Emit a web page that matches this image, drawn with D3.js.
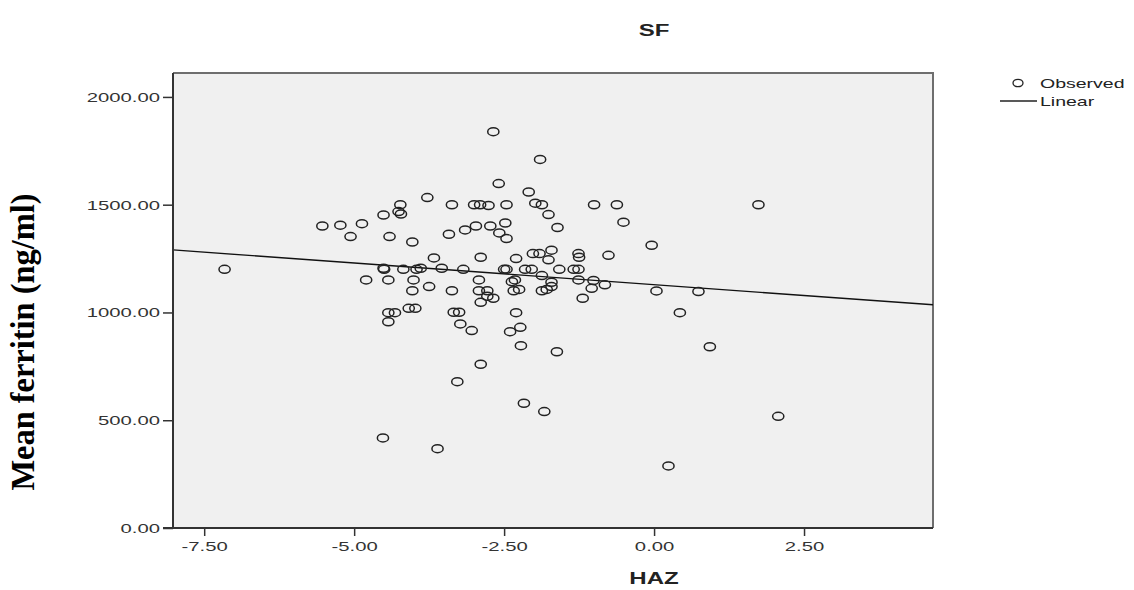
<!DOCTYPE html>
<html>
<head>
<meta charset="utf-8">
<script src="https://cdn.jsdelivr.net/npm/d3@7"></script>
<style>
  html, body { margin: 0; padding: 0; background: #fff; }
  #chart { width: 1134px; height: 590px; }
  .tick text { font-family: "Liberation Sans", Arial, sans-serif; font-size: 13.5px; fill: #333; }
  .tick line { stroke: #333; stroke-width: 1.5; }
</style>
</head>
<body>
<div id="chart"></div>
<script>
// HAZ (x) and mean ferritin (y)
const haz = [
  -7.16, -5.53, -5.23, -5.06, -4.87, -4.51, -4.23, -4.26, -4.22, -4.41,
  -4.03, -4.51, -4.50, -4.18, -3.96, -4.80, -4.43, -4.01, -4.03, -2.68,
  -1.90, -2.59, -2.09, -3.78, -3.37, -3.00, -2.90, -2.76, -2.46, -1.98,
  -1.87, -1.00, -0.62, -1.76, -0.51, -1.61, -2.48, -2.97, -2.73, -3.15,
  -3.42, -2.58, -2.46, -0.04, -1.71, -2.02, -1.91, -1.26, -1.25, -0.76,
  -3.67, -2.89, -2.30, -1.76, -3.89, -3.54, -3.18, -2.50, -2.46, -2.15,
  -2.04, -1.58, -1.34, -1.26, -1.01, -0.82, 0.04, -2.92, -2.37, -2.32,
  -1.71, -1.26, -1.87, -3.75, -3.37, -2.92, -2.78, -2.34, -2.25, -1.87,
  -1.79, -1.71, -1.19, -2.78, -2.68, -2.89, -1.04, -2.30, -4.09, -3.98,
  -3.34, -3.25, -3.23, -3.04, -2.40, -2.23, -2.22, -1.62, -2.89, -3.28,
  -2.17, -1.83, -3.61, -4.43, -4.32, -4.43, -4.52, 1.74, 0.74, 0.43,
  0.93, 2.07, 0.24
];
const ferritin = [
  1200, 1401, 1405, 1352, 1412, 1452, 1500, 1468, 1457, 1352,
  1327, 1205, 1200, 1200, 1200, 1151, 1151, 1151, 1101, 1839,
  1710, 1598, 1559, 1533, 1500, 1500, 1500, 1496, 1500, 1507,
  1500, 1500, 1500, 1454, 1419, 1394, 1415, 1401, 1401, 1383,
  1363, 1369, 1343, 1312, 1289, 1273, 1273, 1273, 1256, 1265,
  1253, 1256, 1250, 1244, 1205, 1205, 1200, 1200, 1200, 1200,
  1200, 1200, 1200, 1200, 1148, 1128, 1100, 1151, 1143, 1151,
  1140, 1151, 1171, 1120, 1101, 1101, 1101, 1101, 1107, 1101,
  1107, 1120, 1066, 1075, 1066, 1047, 1112, 999, 1019, 1019,
  1001, 1001, 947, 916, 911, 931, 846, 818, 760, 679,
  579, 540, 368, 999, 999, 957, 418, 1500, 1097, 999,
  841, 518, 288
];
const xTicks = [-7.5, -5, -2.5, 0, 2.5];
const yTicks = [0, 500, 1000, 1500, 2000];
// linear fit as drawn
const fitIntercept = 1129;
const fitSlope = -20.1;

const width = 1134, height = 590;
const margin = { top: 73, right: 201, bottom: 62, left: 173 };
// the source image is stretched horizontally
const stretch = 1.5;

const x = d3.scaleLinear().domain([-8.02, 4.65]).range([margin.left, width - margin.right]);
const y = d3.scaleLinear().domain([0, 2111]).range([height - margin.bottom, margin.top]);
const fmt = (d) => d.toFixed(2);

const svg = d3.select("#chart").append("svg")
  .attr("width", width).attr("height", height)
  .attr("viewBox", [0, 0, width, height]);

const x0 = margin.left, x1 = width - margin.right, y0 = margin.top, y1 = height - margin.bottom;

// plot background
svg.append("rect")
  .attr("x", x0).attr("y", y0)
  .attr("width", x1 - x0).attr("height", y1 - y0)
  .attr("fill", "#f0f0f0");

// frame: top and right lighter
svg.append("path")
  .attr("d", `M${x0},${y0}H${x1}V${y1}`)
  .attr("fill", "none").attr("stroke", "#6e6e6e").attr("stroke-width", 2);

const dataPts = haz.map((h, i) => ({ x: h, y: ferritin[i] }));

svg.append("clipPath").attr("id", "plot-clip")
  .append("rect").attr("x", x0).attr("y", y0).attr("width", x1 - x0).attr("height", y1 - y0);

const [dx0, dx1] = x.domain();
svg.append("line")
  .attr("clip-path", "url(#plot-clip)")
  .attr("x1", x(dx0)).attr("y1", y(fitIntercept + fitSlope * dx0))
  .attr("x2", x(dx1)).attr("y2", y(fitIntercept + fitSlope * dx1))
  .attr("stroke", "#111").attr("stroke-width", 1.4);

svg.append("g")
  .selectAll("ellipse")
  .data(dataPts)
  .join("ellipse")
  .attr("cx", (d) => x(d.x))
  .attr("cy", (d) => y(d.y))
  .attr("rx", 5.6)
  .attr("ry", 4.0)
  .attr("fill", "none")
  .attr("stroke", "#222")
  .attr("stroke-width", 1.5);

// axes
svg.append("g")
  .attr("transform", `translate(0,${y1})`)
  .call(d3.axisBottom(x).tickValues(xTicks).tickSize(8).tickPadding(5).tickFormat(fmt))
  .call((g) => g.select(".domain").attr("stroke", "#333").attr("stroke-width", 2)
    .attr("d", `M${x0 - 10},0H${x1}`));

svg.append("g")
  .attr("transform", `translate(${x0},0)`)
  .call(d3.axisLeft(y).tickValues(yTicks).tickSize(10).tickPadding(3).tickFormat(fmt))
  .call((g) => g.select(".domain").attr("stroke", "#333").attr("stroke-width", 2)
    .attr("d", `M0,${y0}V${y1}`));

// titles
svg.append("text")
  .attr("class", "wide")
  .attr("x", 654).attr("y", 36)
  .attr("text-anchor", "middle")
  .style("font-family", "'Liberation Sans', Arial, sans-serif")
  .style("font-weight", "bold").style("font-size", "16px").attr("fill", "#222")
  .text("SF");

svg.append("text")
  .attr("class", "wide")
  .attr("x", 654).attr("y", 584)
  .attr("text-anchor", "middle")
  .style("font-family", "'Liberation Sans', Arial, sans-serif")
  .style("font-weight", "bold").style("font-size", "16px").attr("fill", "#222")
  .text("HAZ");

svg.append("text")
  .attr("transform", `translate(34,342) scale(1.3,1) rotate(-90)`)
  .attr("text-anchor", "middle")
  .attr("textLength", 297).attr("lengthAdjust", "spacingAndGlyphs")
  .style("font-family", "'Liberation Serif', 'Times New Roman', serif")
  .style("font-weight", "bold").style("font-size", "26px").attr("fill", "#000")
  .text("Mean ferritin (ng/ml)");

// legend
const legend = svg.append("g").attr("transform", "translate(1000,0)");
legend.append("ellipse").attr("cx", 18).attr("cy", 83).attr("rx", 5).attr("ry", 3.7)
  .attr("fill", "none").attr("stroke", "#222").attr("stroke-width", 1.3);
legend.append("text").attr("class", "wide").attr("x", 40).attr("y", 88)
  .style("font-family", "'Liberation Sans', Arial, sans-serif").style("font-size", "13px").attr("fill", "#222")
  .text("Observed");
legend.append("line").attr("x1", 0).attr("x2", 37).attr("y1", 101).attr("y2", 101)
  .attr("stroke", "#222").attr("stroke-width", 1.3);
legend.append("text").attr("class", "wide").attr("x", 40).attr("y", 106)
  .style("font-family", "'Liberation Sans', Arial, sans-serif").style("font-size", "13px").attr("fill", "#222")
  .text("Linear");

// widen horizontal texts to match the stretched source
svg.selectAll(".tick text, text.wide").each(function () {
  const w = this.getComputedTextLength();
  d3.select(this).attr("textLength", w * stretch).attr("lengthAdjust", "spacingAndGlyphs");
});
</script>
</body>
</html>
